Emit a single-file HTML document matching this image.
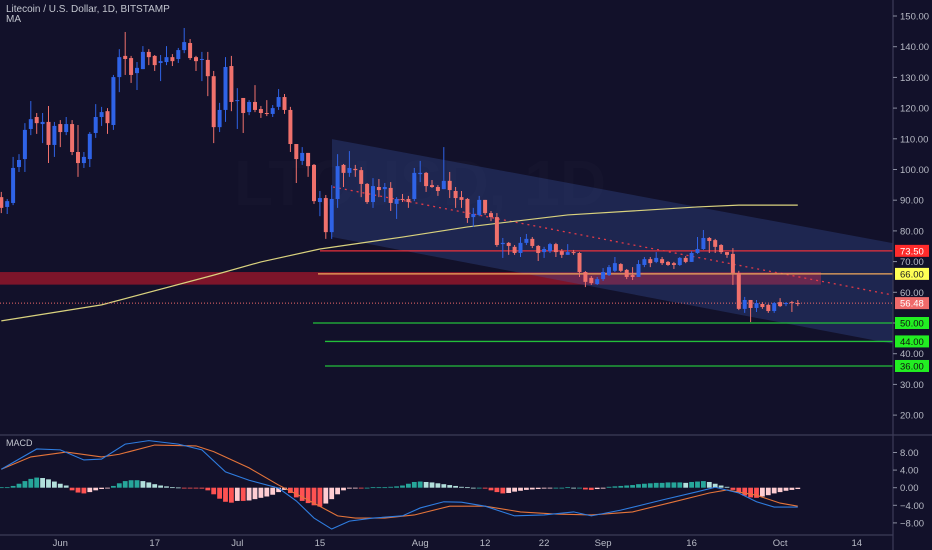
<!DOCTYPE html>
<html><head><meta charset="utf-8"><style>
html,body{margin:0;padding:0;background:#12112a;width:932px;height:550px;overflow:hidden}
svg{display:block;font-family:"Liberation Sans",sans-serif}
</style></head><body>
<svg id="c" width="932" height="550" viewBox="0 0 932 550" xmlns="http://www.w3.org/2000/svg">
<rect x="0" y="0" width="932" height="550" fill="#12112a"/>
<text x="420" y="205" font-size="64" fill="#ffffff" fill-opacity="0.014" text-anchor="middle" font-weight="bold">LTCUSD, 1D</text>
<g id="main"></g>
<text x="6" y="12" font-size="10" fill="#c3c6cf">Litecoin / U.S. Dollar, 1D, BITSTAMP</text>
<text x="6" y="22" font-size="10" fill="#c3c6cf">MA</text>
<text x="6" y="446" font-size="9" fill="#c3c6cf">MACD</text>
</svg>
<script>
const O=[91.0,87.8,89.1,100.8,103.4,113.2,117.1,114.8,115.5,108.0,114.8,112.2,114.8,105.7,102.1,103.4,111.9,117.1,119.0,114.5,130.1,137.0,136.3,131.4,132.7,138.3,137.0,134.7,135.0,136.6,136.0,138.9,141.2,136.6,135.7,135.7,130.4,113.8,119.4,133.7,122.3,123.3,118.7,122.0,119.7,118.4,118.1,120.4,123.6,119.4,108.3,102.8,105.4,101.5,89.4,90.7,79.6,90.4,101.5,98.9,100.2,99.8,95.3,89.4,94.3,93.6,94.0,88.8,90.4,90.4,90.4,98.5,98.9,94.9,94.3,93.6,96.3,93.0,91.0,90.4,84.5,85.2,90.1,85.8,84.5,75.7,76.1,74.8,72.8,76.1,77.4,75.1,73.1,73.4,75.7,73.4,72.2,73.1,72.8,66.6,64.7,62.7,64.3,65.6,67.0,69.2,67.3,65.6,65.0,68.9,70.8,69.9,70.8,69.9,69.5,68.9,71.2,69.9,72.8,74.1,77.7,77.0,75.4,73.1,72.5,66.3,54.6,57.5,54.9,56.2,55.9,53.9,56.8,56.2,56.8,56.5];
const H=[92.7,90.4,104.1,105.0,115.1,122.3,118.4,118.4,120.7,115.5,116.1,117.1,116.1,114.5,105.7,112.2,121.3,120.4,120.0,130.8,139.2,144.8,137.0,135.0,140.2,139.2,137.3,137.3,140.2,137.6,139.6,146.1,142.5,137.0,138.3,138.3,132.1,121.7,136.6,137.0,126.5,123.3,122.6,127.5,120.7,122.6,121.0,126.2,124.6,120.4,108.3,107.3,105.4,101.8,93.0,91.7,94.9,105.0,101.8,106.0,101.5,100.8,95.6,97.2,96.9,95.6,95.9,91.0,92.0,91.4,100.5,102.8,99.2,96.6,94.9,107.3,99.2,94.3,93.0,90.7,87.5,91.4,90.1,86.5,85.8,77.7,76.4,75.4,78.0,79.0,78.0,75.4,74.8,76.1,76.1,74.1,75.7,73.8,73.1,66.9,65.3,65.0,67.9,68.9,71.5,69.5,67.6,68.2,70.5,71.5,71.5,73.1,71.5,70.2,69.9,71.5,71.8,73.4,78.0,80.3,78.0,77.4,75.7,73.1,74.4,67.0,58.5,57.5,57.5,56.8,56.2,56.8,58.1,56.8,57.2,57.5];
const L=[85.8,85.5,88.4,99.2,99.2,111.2,111.6,108.6,102.1,104.1,107.3,111.2,104.7,97.6,100.5,100.8,110.3,114.2,111.6,112.9,125.2,130.8,128.2,125.9,132.7,134.0,132.1,128.8,134.0,133.7,134.7,137.9,135.7,132.1,128.8,123.9,108.6,112.2,115.5,119.0,113.2,111.9,117.7,118.7,116.8,117.4,117.1,119.4,118.1,105.7,95.6,101.5,97.6,88.8,84.8,77.4,77.4,87.5,94.3,97.6,97.6,91.0,88.8,87.5,91.0,89.4,86.5,83.9,89.4,87.5,89.7,95.9,92.7,94.0,91.4,93.6,90.7,87.5,87.5,82.6,81.3,84.8,85.2,83.2,74.8,71.2,72.2,72.2,71.5,75.4,74.4,70.2,71.2,72.8,71.5,71.2,72.2,72.2,65.0,61.7,62.4,62.4,63.7,65.3,66.6,66.6,64.3,64.0,65.0,68.2,68.2,69.5,68.9,68.6,67.6,68.6,69.5,69.9,72.5,73.8,72.8,72.8,72.5,71.2,62.4,54.2,53.3,50.3,53.6,54.6,53.3,53.3,55.2,55.5,53.6,55.5];
const C=[87.5,89.7,100.5,103.1,112.9,116.4,115.1,115.5,108.0,114.2,112.2,114.8,105.7,102.1,104.1,111.6,117.1,118.7,115.1,130.1,136.6,136.0,130.8,133.1,138.3,136.6,134.0,135.3,136.6,135.3,138.9,141.5,136.3,135.3,136.0,130.4,113.8,119.4,133.4,122.0,122.6,118.4,122.0,119.4,118.4,118.1,120.0,123.6,119.4,108.3,103.4,105.4,101.1,89.7,90.7,79.6,90.4,101.1,98.9,100.5,99.8,95.3,89.4,94.6,93.3,94.3,89.1,90.4,90.1,89.4,98.9,98.9,94.6,94.3,93.0,96.3,93.3,90.7,90.1,84.2,85.5,90.1,85.8,84.5,75.4,76.1,75.1,72.8,76.1,77.4,75.1,72.8,74.1,75.7,73.1,72.2,73.1,72.8,66.6,63.4,63.0,64.3,66.6,68.2,69.5,67.0,65.0,65.0,69.2,70.8,69.5,71.2,69.5,68.9,68.9,71.2,69.9,72.8,74.1,77.7,76.7,74.8,73.1,72.2,66.3,54.6,57.5,54.9,56.5,55.2,53.9,56.5,55.5,56.5,56.5,56.48];
const maIdx=[0,17,36,44,54,68,79,96,118,125,135];
const maVals=[50.7,55.9,65.6,69.9,74.1,78.0,81.3,85.2,87.8,88.4,88.4];
const macdIdx=[0,6,10,14,17,21,25,30,34,38,42,47,50,53,56,59,63,68,71,75,78,82,87,92,97,100,105,112,118,121,125,128,131,135];
const macdVals=[4.2,8.8,8.6,6.3,6.5,9.9,10.7,9.9,8.6,3.6,1.7,-0.1,-3.0,-6.9,-9.4,-7.6,-6.9,-6.4,-4.6,-3.2,-3.3,-4.2,-6.4,-6.2,-5.5,-6.4,-5.1,-2.8,-0.9,0.1,-1.2,-3.2,-4.4,-4.4];
const sigIdx=[0,5,11,17,20,26,33,36,42,47,52,57,60,65,70,76,82,88,94,100,107,114,120,123,128,132,135];
const sigVals=[4.2,7.0,8.1,7.0,7.6,9.7,9.5,8.2,4.5,0.6,-2.8,-6.4,-6.9,-6.9,-6.2,-4.2,-4.2,-5.5,-6.0,-6.2,-5.5,-3.2,-1.2,-0.5,-1.7,-3.5,-4.2];
const hist=[0.1,0.1,0.4,0.9,1.5,2.0,2.3,2.2,1.9,1.4,0.9,0.5,-0.6,-1.1,-1.3,-1.0,-0.6,-0.3,-0.1,0.4,1.0,1.5,1.7,1.7,1.5,1.2,0.8,0.5,0.3,0.1,0.05,-0.1,-0.1,-0.1,-0.2,-0.6,-1.5,-2.5,-3.2,-3.4,-3.0,-3.0,-2.9,-2.6,-2.3,-2.0,-1.6,-1.0,-0.5,-1.2,-2.2,-3.0,-3.5,-4.0,-4.3,-3.6,-2.6,-1.5,-0.6,-0.2,-0.1,-0.1,0.0,0.1,0.1,0.1,0.2,0.3,0.5,0.9,1.3,1.4,1.3,1.2,1.0,0.8,0.6,0.4,0.2,0.1,0,0,-0.2,-0.6,-1.0,-1.3,-1.2,-0.9,-0.7,-0.5,-0.4,-0.3,-0.2,-0.1,0,0,0.1,0,0,-0.4,-0.5,-0.3,-0.2,0.2,0.3,0.4,0.5,0.6,0.8,0.9,1.0,1.1,1.1,1.2,1.2,1.2,1.1,1.3,1.4,1.5,1.3,0.9,0.5,0.2,-0.5,-1.2,-1.8,-2.2,-2.3,-2.0,-1.7,-1.3,-1.0,-0.7,-0.5,-0.3];
const priceTicks=[150,140,130,120,110,100,90,80,70,60,50,40,30,20];
const macdTicks=[8,4,0,-4,-8];
const dateLabels=["Jun","17","Jul","15","Aug","12","22","Sep","16","Oct","14"];
const dateIdx=[10,26,40,54,71,82,92,102,117,132,145];
const levels=[{p:73.5,c:"#e8303a",lbl:"#ff2b2b",tc:"#fff",x0:320},{p:66,c:"#f2a85a",lbl:"#ffff55",tc:"#222",x0:318},{p:50,c:"#22c03a",lbl:"#22ee22",tc:"#111",x0:313},{p:44,c:"#22c03a",lbl:"#22ee22",tc:"#111",x0:325},{p:36,c:"#22c03a",lbl:"#22ee22",tc:"#111",x0:325}];
const lastPrice=56.48;
const channelTop=[109.9,76.0];
const channelBottom=[78.0,43.2];
const channelMid=[94.3,59.1];

const NS="http://www.w3.org/2000/svg";
const svg=document.getElementById('c'), g=document.getElementById('main');
const AX=893;
const X=i=>1.3+i*5.9;
const Y=p=>16+(150-p)*3.07;
const MY=v=>487.7-v*4.4;
function mk(t,a,parent){const e=document.createElementNS(NS,t);for(const k in a)e.setAttribute(k,a[k]);(parent||g).appendChild(e);return e;}

let e=mk('rect',{x:0,y:Y(66.6),width:821,height:Y(62.5)-Y(66.6),fill:"#c0182a","fill-opacity":0.62});


e=mk('polygon',{points:`332,${Y(channelTop[0])} ${AX},${Y(channelTop[1])} ${AX},${Y(channelBottom[1])} 332,${Y(channelBottom[0])}`,fill:"#3a5aa8","fill-opacity":0.3});


e=mk('line',{x1:333,y1:Y(channelMid[0]),x2:AX,y2:Y(channelMid[1]),stroke:"#e23a48","stroke-width":1.3,"stroke-dasharray":"2,4"});


e=mk('polyline',{points:maIdx.map((d,k)=>X(d)+','+Y(maVals[k])).join(' '),fill:"none",stroke:"#d9d27e","stroke-width":1.2});


levels.forEach(l=>{
 const ln=mk('line',{x1:l.x0,y1:Y(l.p),x2:AX,y2:Y(l.p),stroke:l.c,"stroke-width":1.3});
 
 
});
e=mk('line',{x1:0,y1:Y(lastPrice),x2:AX,y2:Y(lastPrice),stroke:"#f06a6a","stroke-width":1,"stroke-dasharray":"1,2"});


for(let i=0;i<C.length;i++){
 const up=C[i]>=O[i], col=up?"#2f63e6":"#f0716c", x=X(i);
 const w=mk('line',{x1:x,y1:Y(H[i]),x2:x,y2:Y(L[i]),stroke:col,"stroke-width":1});
 
 
 const t=Math.min(Y(O[i]),Y(C[i])), h=Math.max(1,Math.abs(Y(O[i])-Y(C[i])));
 const b=mk('rect',{x:x-2,y:t,width:4,height:h,fill:col});
 
 
}
[[0,435,932,435],[0,535,AX,535],[AX,0,AX,550]].forEach(a=>{const s=mk('line',{x1:a[0],y1:a[1],x2:a[2],y2:a[3],stroke:"#3c3c58","stroke-width":1.2});
 
 });
for(let i=0;i<hist.length;i++){
 const v=hist[i], pv=i?hist[i-1]:0;
 let col; if(v>=0) col=v>=pv?"#26a69a":"#b2dfdb"; else col=v<=pv?"#ff5252":"#ffcdd2";
 const y0=MY(0), y1=MY(v);
 const r=mk('rect',{x:X(i)-2.4,y:Math.min(y0,y1),width:4.8,height:Math.max(0.8,Math.abs(y1-y0)),fill:col});
 
 
}
e=mk('polyline',{points:sigIdx.map((d,k)=>X(d)+','+MY(sigVals[k])).join(' '),fill:"none",stroke:"#e4743a","stroke-width":1.1});


e=mk('polyline',{points:macdIdx.map((d,k)=>X(d)+','+MY(macdVals[k])).join(' '),fill:"none",stroke:"#2f7de0","stroke-width":1.1});


priceTicks.forEach(p=>{
 const tk=mk('line',{x1:AX,y1:Y(p),x2:AX+4,y2:Y(p),stroke:"#8a8da0"});
 
 
 const t=mk('text',{x:AX+7,y:Y(p)+3.5,"font-size":9.5,fill:"#b8bbc6"});t.textContent=p.toFixed(2);
 
 
});
macdTicks.forEach(v=>{
 const tk=mk('line',{x1:AX,y1:MY(v),x2:AX+4,y2:MY(v),stroke:"#8a8da0"});
 
 
 const t=mk('text',{x:AX+7,y:MY(v)+3.5,"font-size":9.5,fill:"#b8bbc6"});t.textContent=(v<0?"\u2212":"")+Math.abs(v).toFixed(2);
 
 
});
levels.concat([{p:lastPrice,lbl:"#f06a6a",tc:"#fff"}]).forEach(l=>{
 const r=mk('rect',{x:AX+2,y:Y(l.p)-6,width:34,height:12,fill:l.lbl});
 
 
 const t=mk('text',{x:AX+7,y:Y(l.p)+3.5,"font-size":9.5,fill:l.tc});t.textContent=l.p.toFixed(2);
 
 
});
dateLabels.forEach((s,k)=>{
 const t=mk('text',{x:X(dateIdx[k]),y:546,"font-size":9.5,fill:"#b8bbc6","text-anchor":"middle"});t.textContent=s;
 
 
});
</script>
</body></html>
